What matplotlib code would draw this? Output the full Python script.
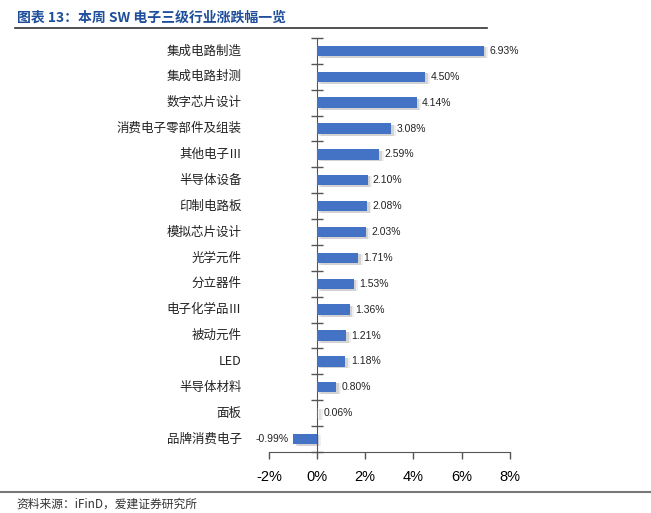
import matplotlib.pyplot as plt
import matplotlib.transforms as mtransforms
import numpy as np

plt.rcParams['font.family'] = ['Noto Sans CJK SC', 'DejaVu Sans']

# 数据
categories = ['集成电路制造', '集成电路封测', '数字芯片设计', '消费电子零部件及组装',
              '其他电子Ⅲ', '半导体设备', '印制电路板', '模拟芯片设计', '光学元件',
              '分立器件', '电子化学品Ⅲ', '被动元件', 'LED', '半导体材料', '面板',
              '品牌消费电子']
values = [6.93, 4.50, 4.14, 3.08, 2.59, 2.10, 2.08, 2.03, 1.71, 1.53, 1.36,
          1.21, 1.18, 0.80, 0.06, -0.99]
xticks = [-2, 0, 2, 4, 6, 8]

blue = '#4472C4'
num_font = ['Liberation Sans', 'DejaVu Sans']

fig = plt.figure(figsize=(6.51, 5.13), dpi=100)
ax = fig.add_axes([0.413, 0.119, 0.370, 0.807])

y = np.arange(len(categories))
# 阴影
for dx, a in [(0.10, 0.25), (0.18, 0.12)]:
    ax.barh(y + 0.06, values, left=dx, height=0.42, color='#808080', alpha=a,
            zorder=1, linewidth=0)
ax.barh(y, values, height=0.40, color=blue, zorder=3)

for yi, v in zip(y, values):
    if v >= 0:
        ax.text(v + 0.22, yi, f'{v:.2f}%', va='center', ha='left', fontsize=7.5,
                color='#222222', zorder=4, family=num_font)
    else:
        ax.text(v - 0.2, yi, f'{v:.2f}%', va='center', ha='right', fontsize=7.5,
                color='#222222', zorder=4, family=num_font)

ax.set_xlim(-2, 8)
ax.set_ylim(len(categories) - 0.5, -0.5)
ax.set_xticks(xticks)
ax.set_xticklabels([f'{t}%' for t in xticks], fontsize=10.5, family=num_font)
ax.tick_params(axis='x', direction='out', length=5, width=1, color='#555555', pad=8)

ax.spines['left'].set_position(('data', 0))
ax.spines['top'].set_visible(False)
ax.spines['right'].set_visible(False)
for s in ['left', 'bottom']:
    ax.spines[s].set_color('#555555')
ax.set_yticks(np.arange(len(categories) + 1) - 0.5)
ax.set_yticklabels([])
ax.tick_params(axis='y', direction='inout', length=8, width=1, color='#555555')

trans = mtransforms.blended_transform_factory(ax.transAxes, ax.transData)
for yi, c in zip(y, categories):
    ax.text(-0.113, yi, c, transform=trans, ha='right', va='center', fontsize=9,
            color='#222222')

# 标题和来源
fig.text(0.026, 0.965, '图表 13：本周 SW 电子三级行业涨跌幅一览', fontsize=10,
         fontweight='bold', color='#1F4E9A', va='center')
fig.add_artist(plt.Line2D([0.023, 0.748], [0.945, 0.945], color='#333333', lw=1.2))
fig.add_artist(plt.Line2D([0.0, 1.0], [0.040, 0.040], color='#777777', lw=1.5))
fig.text(0.026, 0.018, '资料来源：iFinD，爱建证券研究所', fontsize=8.5,
         color='#333333', va='center')

plt.savefig('out.png', dpi=100)
